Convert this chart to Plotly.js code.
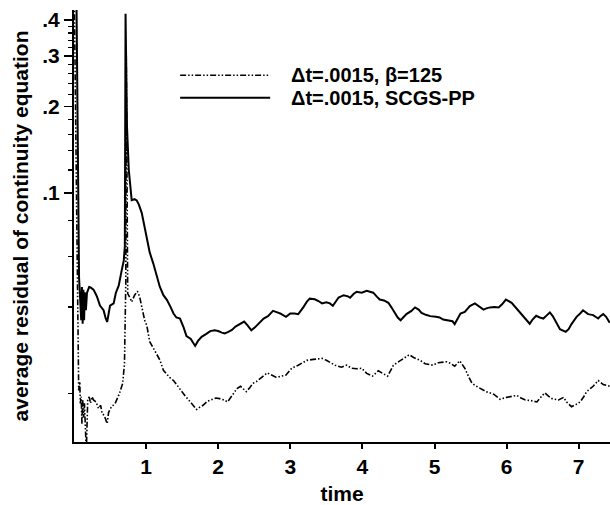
<!DOCTYPE html>
<html>
<head>
<meta charset="utf-8">
<script src="https://cdn.plot.ly/plotly-3.0.1.min.js"></script>
<style>html,body{margin:0;padding:0;background:#fff;}</style>
</head>
<body>
<div id="chart" style="width:610px;height:505px;"></div>
<script>
// ---- data ----
const timeSCGS = [0.00,0.035,0.07,0.09,0.10,0.11,0.12,0.13,0.14,0.15,0.165,0.18,0.21,0.23,0.27,0.30,0.32,0.36,0.41,0.44,0.46,0.50,0.55,0.58,0.62,0.66,0.69,0.705,0.715,0.735,0.76,0.80,0.84,0.87,0.90,0.94,0.98,1.01,1.05,1.10,1.15,1.19,1.24,1.29,1.34,1.38,1.42,1.47,1.52,1.56,1.62,1.68,1.72,1.77,1.83,1.89,1.95,2.00,2.05,2.09,2.14,2.19,2.24,2.30,2.36,2.41,2.46,2.51,2.56,2.63,2.69,2.76,2.81,2.86,2.94,3.00,3.06,3.11,3.18,3.23,3.27,3.34,3.39,3.44,3.50,3.55,3.59,3.63,3.67,3.74,3.80,3.83,3.88,3.92,3.99,4.06,4.10,4.15,4.20,4.24,4.30,4.36,4.40,4.45,4.49,4.53,4.57,4.61,4.68,4.73,4.78,4.82,4.88,4.94,5.02,5.07,5.12,5.21,5.25,5.28,5.32,5.36,5.42,5.49,5.56,5.62,5.68,5.72,5.77,5.83,5.89,5.94,5.99,6.07,6.14,6.18,6.22,6.27,6.32,6.36,6.41,6.46,6.51,6.56,6.60,6.64,6.67,6.74,6.82,6.86,6.90,6.97,7.02,7.06,7.13,7.20,7.27,7.30,7.34,7.38,7.43];
const residSCGS = [0.6,0.45,0.0508,0.040,0.036,0.047,0.035,0.046,0.036,0.045,0.039,0.0448,0.047,0.0468,0.046,0.0445,0.0434,0.0405,0.039,0.0365,0.0355,0.0405,0.0412,0.0448,0.0475,0.0535,0.058,0.065,0.42,0.17,0.12,0.0943,0.095,0.094,0.091,0.085,0.076,0.0684,0.062,0.0567,0.0505,0.0471,0.044,0.0423,0.040,0.038,0.0368,0.0365,0.034,0.0317,0.031,0.0293,0.0305,0.0315,0.0322,0.033,0.0332,0.033,0.0326,0.0324,0.0328,0.0333,0.0342,0.035,0.0356,0.0345,0.0332,0.034,0.035,0.0365,0.0372,0.0388,0.0384,0.038,0.037,0.038,0.038,0.0378,0.0399,0.0418,0.0428,0.0426,0.042,0.0412,0.0416,0.0412,0.0404,0.042,0.0432,0.0440,0.0436,0.0431,0.0445,0.0452,0.0449,0.0456,0.0454,0.0449,0.0435,0.0425,0.0422,0.0414,0.040,0.038,0.0368,0.036,0.0368,0.0378,0.0388,0.0399,0.0392,0.0382,0.0376,0.0372,0.037,0.0368,0.0362,0.036,0.0357,0.0349,0.0365,0.038,0.0385,0.0403,0.0412,0.0402,0.0392,0.0396,0.0399,0.0400,0.0399,0.041,0.0425,0.0414,0.0395,0.0385,0.0375,0.036,0.035,0.0362,0.0373,0.0368,0.0365,0.0375,0.0383,0.0372,0.036,0.0335,0.0328,0.0335,0.0349,0.037,0.038,0.039,0.0378,0.0375,0.0365,0.0372,0.0378,0.037,0.0353];

const timeBeta = [0.00,0.05,0.065,0.08,0.088,0.10,0.11,0.12,0.134,0.145,0.157,0.171,0.19,0.21,0.23,0.25,0.27,0.305,0.34,0.37,0.39,0.42,0.46,0.48,0.52,0.57,0.63,0.675,0.70,0.71,0.718,0.725,0.745,0.78,0.80,0.84,0.88,0.91,0.95,0.98,1.01,1.05,1.10,1.14,1.19,1.24,1.29,1.33,1.38,1.45,1.50,1.55,1.59,1.65,1.70,1.74,1.79,1.85,1.91,1.97,2.02,2.08,2.13,2.18,2.22,2.26,2.31,2.35,2.39,2.44,2.48,2.53,2.57,2.63,2.68,2.74,2.80,2.85,2.94,3.02,3.07,3.11,3.17,3.23,3.32,3.38,3.44,3.50,3.56,3.62,3.71,3.78,3.85,3.92,3.99,4.06,4.14,4.22,4.27,4.35,4.43,4.52,4.58,4.65,4.71,4.75,4.80,4.87,4.94,4.98,5.05,5.10,5.17,5.22,5.28,5.35,5.42,5.47,5.52,5.61,5.72,5.82,5.91,6.00,6.07,6.14,6.20,6.26,6.34,6.42,6.48,6.53,6.58,6.63,6.72,6.79,6.83,6.90,6.96,7.02,7.07,7.11,7.16,7.20,7.27,7.34,7.43];
const residBeta = [0.6,0.06,0.0205,0.022,0.01845,0.0195,0.0157,0.019,0.0165,0.0185,0.0141,0.0125,0.019,0.01946,0.0185,0.0195,0.019,0.0187,0.01774,0.0182,0.0170,0.0168,0.0157,0.0172,0.0180,0.01845,0.0200,0.0217,0.0254,0.0324,0.0483,0.30,0.0446,0.0429,0.0417,0.044,0.0454,0.0435,0.039,0.036,0.0345,0.0303,0.0288,0.0277,0.0262,0.0241,0.0232,0.0227,0.0222,0.021,0.0203,0.0195,0.019,0.0182,0.0176,0.0179,0.0182,0.0188,0.0191,0.0193,0.0192,0.019,0.0187,0.0195,0.0203,0.0208,0.0212,0.0207,0.0203,0.021,0.0217,0.022,0.0224,0.023,0.0236,0.0232,0.0228,0.0229,0.0232,0.0245,0.0248,0.0251,0.0256,0.0261,0.0263,0.0264,0.0265,0.0261,0.0256,0.0251,0.0247,0.0251,0.0245,0.0244,0.0245,0.0235,0.023,0.024,0.0236,0.023,0.0251,0.026,0.0266,0.0273,0.0267,0.0265,0.0261,0.0254,0.0252,0.0251,0.0256,0.0257,0.0258,0.0255,0.0249,0.026,0.0245,0.023,0.0217,0.021,0.0203,0.0199,0.0191,0.0194,0.0195,0.0197,0.0193,0.019,0.0189,0.0187,0.0195,0.0201,0.0196,0.0192,0.019,0.0194,0.0187,0.018,0.0183,0.0187,0.0195,0.0203,0.0208,0.0212,0.0222,0.0215,0.0212];

const seriesNames = ['\u0394t=.0015, \u03b2=125', '\u0394t=.0015, SCGS-PP'];
const yTickVals = [0.1, 0.2, 0.3, 0.4];
const yTickText = ['.1', '.2', '.3', '.4'];
const yMinorVals = [0.02,0.04,0.06,0.08,0.12,0.14,0.16,0.18,0.22,0.24,0.26,0.28,0.32,0.34,0.36,0.38];
const xTickVals = [1,2,3,4,5,6,7];
const xTitle = 'time';
const yTitle = 'average residual of continuity equation';

// ---- styles ----
const FONT = 'Liberation Sans, Arial, Helvetica, sans-serif';
const dashDotDot = '6px,2px,1.5px,2px,1.5px,2px';

const traces = [
  {x: timeBeta, y: residBeta, name: seriesNames[0], mode: 'lines',
   line: {color: '#000', width: 1.6, dash: dashDotDot}, showlegend: false, hoverinfo: 'skip'},
  {x: timeSCGS, y: residSCGS, name: seriesNames[1], mode: 'lines',
   line: {color: '#000', width: 2}, showlegend: false, hoverinfo: 'skip'}
];

const legX0 = 0.198, legX1 = 0.366, legTextX = 0.401;
const legY = [0.849, 0.797];

const layout = {
  width: 610, height: 505,
  margin: {l: 74, r: 0, t: 10, b: 63, pad: 0},
  paper_bgcolor: '#fff', plot_bgcolor: '#fff',
  font: {family: FONT, size: 20, color: '#000', weight: 'bold'},
  showlegend: false,
  xaxis: {
    range: [0, 7.434], tickmode: 'array', tickvals: xTickVals,
    ticks: 'outside', ticklen: 5, tickwidth: 2, tickcolor: '#000',
    showline: true, linewidth: 2, linecolor: '#000', mirror: false,
    showgrid: false, zeroline: false,
    tickfont: {family: FONT, size: 21, weight: 'bold'},
    title: {text: xTitle, font: {family: FONT, size: 21, weight: 'bold'}, standoff: 9},
    automargin: false
  },
  yaxis: {
    type: 'log', range: [-1.8677, -0.3635],
    tickmode: 'array', tickvals: yTickVals, ticktext: yTickText,
    ticks: 'outside', ticklen: 8, tickwidth: 1.5, tickcolor: '#000',
    minor: {tickmode: 'array', tickvals: yMinorVals, ticks: 'outside', ticklen: 4, tickwidth: 1.2, tickcolor: '#000', showgrid: false},
    showline: true, linewidth: 2, linecolor: '#000', mirror: false,
    showgrid: false, zeroline: false,
    tickfont: {family: FONT, size: 21, weight: 'bold'},
    title: {text: yTitle, font: {family: FONT, size: 21, weight: 'bold'}, standoff: 8},
    automargin: false
  },
  shapes: [
    {type: 'line', xref: 'paper', yref: 'paper', x0: legX0, x1: legX1, y0: legY[0], y1: legY[0],
     line: {color: '#000', width: 1.6, dash: dashDotDot}},
    {type: 'line', xref: 'paper', yref: 'paper', x0: legX0, x1: legX1, y0: legY[1], y1: legY[1],
     line: {color: '#000', width: 2}}
  ],
  annotations: [
    {xref: 'paper', yref: 'paper', x: legTextX, y: legY[0], xanchor: 'left', yanchor: 'middle',
     text: seriesNames[0], showarrow: false, font: {family: FONT, size: 20, weight: 'bold'}},
    {xref: 'paper', yref: 'paper', x: legTextX, y: legY[1], xanchor: 'left', yanchor: 'middle',
     text: seriesNames[1], showarrow: false, font: {family: FONT, size: 20, weight: 'bold'}}
  ]
};

Plotly.newPlot('chart', traces, layout, {displayModeBar: false, staticPlot: true});
</script>
</body>
</html>
